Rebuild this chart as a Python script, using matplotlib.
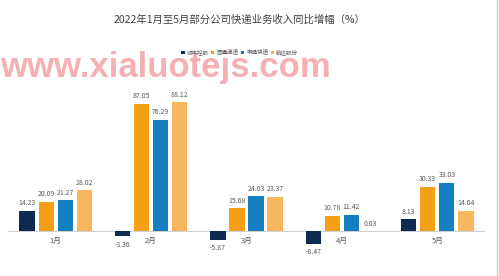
import numpy as np
import matplotlib.pyplot as plt

plt.rcParams['font.family'] = ['Noto Sans CJK SC', 'DejaVu Sans']

months = ['1月', '2月', '3月', '4月', '5月']
companies = ['顺丰控股', '圆通速递', '申通快递', '韵达股份']
sf = [14.23, -3.36, -5.87, -8.47, 8.13]
yt = [20.09, 87.05, 15.68, 10.78, 30.33]
sto = [21.27, 76.29, 24.03, 11.42, 33.03]
yd = [28.02, 88.12, 23.37, 0.03, 14.04]
colors = ['#0c2b4f', '#f59f16', '#167fc2', '#f8b65e']

series = [sf, yt, sto, yd]

fig = plt.figure(figsize=(4.99, 2.76), dpi=100)
ax = fig.add_axes([0.016, 0.045, 0.956, 0.61])
x = np.arange(len(months))
w = 0.16
step = 0.2
for i, vals in enumerate(series):
    xs = x + (i - 1.5) * step
    ax.bar(xs, vals, width=w, color=colors[i], label=companies[i], zorder=2)
    for xi, v in zip(xs, vals):
        if v >= 0:
            ax.text(xi, v + 2.5, '%.2f' % v, ha='center', va='bottom',
                    fontsize=5, color='#595959')
        else:
            ax.text(xi, v - 3, '%.2f' % v, ha='center', va='top',
                    fontsize=5, color='#595959')

ax.axhline(0, color='#d0d0d0', lw=0.8, zorder=1)
ax.set_xlim(-0.5, 4.5)
ax.set_ylim(-22, 93)
for s in ax.spines.values():
    s.set_visible(False)
ax.set_yticks([])
ax.set_xticks([])
for xi, m in zip(x, months):
    ax.text(xi, -3.5, m, ha='center', va='top', fontsize=5.5, color='#595959')

fig.text(0.48, 0.93, '2022年1月至5月部分公司快递业务收入同比增幅（%）',
         ha='center', va='center', fontsize=7.5, color='#404040')
fig.legend(loc='center', bbox_to_anchor=(0.48, 0.81), ncol=4, frameon=False,
           fontsize=4, handlelength=0.6, handleheight=0.6,
           handletextpad=0.3, columnspacing=0.5, labelcolor='#595959')

fig.text(0.0, 0.755, 'www.xialuotejs.com', ha='left', va='center',
         fontsize=25, fontweight='bold', color='#f4a3a7', alpha=0.85,
         family=['Liberation Sans', 'DejaVu Sans'], zorder=0)

fig.add_artist(plt.Line2D([0.995, 0.995], [0, 1], color='#c8c8c8', lw=1,
                          transform=fig.transFigure))

fig.savefig('out.png', dpi=100, facecolor='white')
